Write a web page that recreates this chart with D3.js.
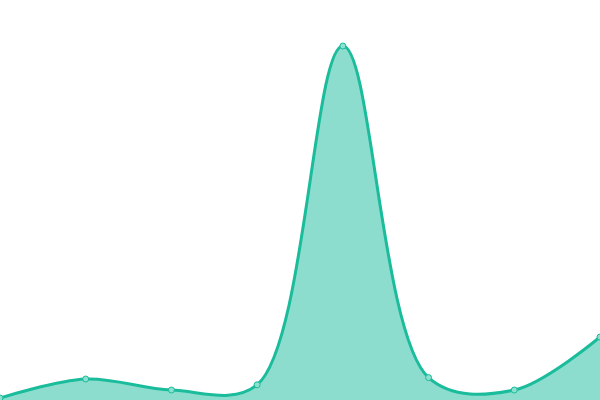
<!DOCTYPE html>
<html><head><meta charset="utf-8">
<script src="https://cdn.jsdelivr.net/npm/d3@7"></script>
<style>html,body{margin:0;padding:0;background:#fff;}svg{display:block;}</style>
</head><body>
<svg id="chart" width="600" height="400"></svg>
<script>
const categories = ["1","2","3","4","5","6","7","8"];
const values = [0.5, 5.25, 2.5, 3.8, 88.5, 5.6, 2.5, 15.75];

const W = 600, H = 400;
const svg = d3.select("#chart");
const x = d3.scalePoint().domain(categories).range([0, W]);
const y = d3.scaleLinear().domain([0, 100]).range([H, 0]);
const data = categories.map((c, i) => ({c, v: values[i]}));

const area = d3.area().x(d => x(d.c)).y0(y(0)).y1(d => y(d.v)).curve(d3.curveCatmullRom);
const line = d3.line().x(d => x(d.c)).y(d => y(d.v)).curve(d3.curveCatmullRom);

svg.append("path").datum(data).attr("d", area).attr("fill", "#1abc9c").attr("fill-opacity", 0.5);
svg.append("path").datum(data).attr("d", line).attr("fill", "none").attr("stroke", "#1abc9c").attr("stroke-width", 3);
svg.selectAll("circle").data(data).join("circle")
  .attr("cx", d => x(d.c)).attr("cy", d => y(d.v)).attr("r", 3)
  .attr("fill", "#8ce0cf").attr("stroke", "#1abc9c").attr("stroke-width", 1);
</script>
</body></html>
